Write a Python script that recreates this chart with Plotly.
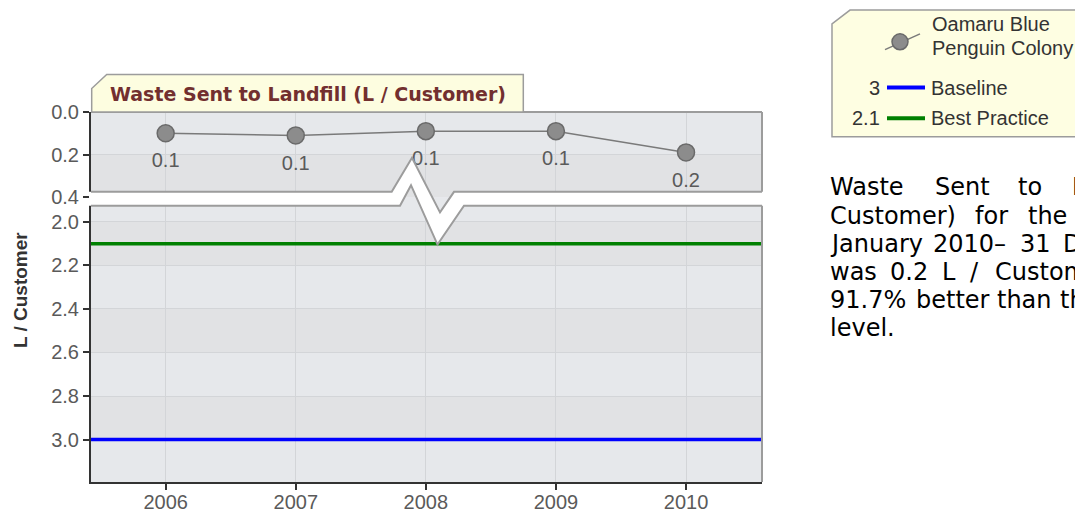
import plotly.graph_objects as go

# ---------------- data ----------------
years = [2006, 2007, 2008, 2009, 2010]
oamaru = [0.10, 0.11, 0.09, 0.09, 0.19]
baseline = 3.0
best_practice = 2.1
top_ticks = [0.0, 0.2, 0.4]
bottom_ticks = [2.0, 2.2, 2.4, 2.6, 2.8, 3.0]
series_name = ["Oamaru Blue", "Penguin Colony"]
baseline_name = "Baseline"
best_name = "Best Practice"
chart_title = "Waste Sent to Landfill (L / Customer)"
y_title = "L / Customer"
para_lines = [
    ["Waste", "Sent", "to", "Landfill"],
    ["Customer)", "for", "the"],
    ["January", "2010\u2013", "31", "December"],
    ["was", "0.2", "L", "/", "Customer"],
    ["91.7%", "better", "than", "the"],
    ["level."],
]

# ---------------- layout constants (page pixels) ----------------
OFF = 8                      # default body margin of the html page
PAGE_W, PAGE_H = 1083, 525
W, H = PAGE_W - OFF, PAGE_H - OFF
L, R, T, B = 91, 762, 112, 486
PW, PH = R - L, B - T
SPLIT = 198  # pixel y where the two panels meet


def px(x):
    return (x - L) / PW


def py(y):
    return (B - y) / PH


split_frac = py(SPLIT)
x_range = [2005.426, 2010.584]
top_range = [0.4, 0.0]
bot_range = [3.195, 1.886]

SANS = "Liberation Sans, Arial, sans-serif"
AX_FONT = dict(family=SANS, size=20, color="#5a5a5a")
GRID = "#D3D5D8"
BG = "#E6E8EB"
BAND = "#E1E2E4"
BORDER = "#9c9c9c"
AXIS = "#333333"

fig = go.Figure()

fig.add_trace(go.Scatter(
    x=years, y=oamaru, xaxis="x2", yaxis="y2",
    mode="lines+markers",
    line=dict(color="#7a7a7a", width=1.5),
    marker=dict(size=17, color="#8c8c8c", line=dict(color="#6a6a6a", width=1.5)),
    showlegend=False, hoverinfo="skip", cliponaxis=False,
))
# value labels (placed below points, using an invisible larger marker for offset)
fig.add_trace(go.Scatter(
    x=years, y=oamaru, xaxis="x2", yaxis="y2",
    mode="markers+text",
    marker=dict(size=29, opacity=0),
    texttemplate="%{y:.1f}", textposition="bottom center",
    textfont=dict(family=SANS, size=20, color="#5a5a5a"),
    showlegend=False, hoverinfo="skip", cliponaxis=False,
))

shapes = []
# alternating bands
for i in range(len(top_ticks) - 1):
    if i % 2 == 1:
        shapes.append(dict(type="rect", xref="paper", yref="y2", x0=0, x1=1,
                           y0=top_ticks[i], y1=top_ticks[i + 1], fillcolor=BAND,
                           line=dict(width=0), layer="below"))
for i in range(len(bottom_ticks) - 1):
    if i % 2 == 0:
        shapes.append(dict(type="rect", xref="paper", yref="y", x0=0, x1=1,
                           y0=bottom_ticks[i], y1=bottom_ticks[i + 1], fillcolor=BAND,
                           line=dict(width=0), layer="below"))

# reference lines
shapes.append(dict(type="line", xref="paper", yref="y", x0=0, x1=1, y0=best_practice,
                   y1=best_practice, line=dict(color="#008000", width=3.5), layer="above"))
shapes.append(dict(type="line", xref="paper", yref="y", x0=0, x1=1, y0=baseline,
                   y1=baseline, line=dict(color="#0000FF", width=3.5), layer="above"))

# right and top borders
shapes.append(dict(type="line", xref="paper", yref="paper", x0=1, x1=1, y0=0, y1=1,
                   line=dict(color=BORDER, width=2), layer="above"))
shapes.append(dict(type="line", xref="paper", yref="paper", x0=0, x1=1, y0=1, y1=1,
                   line=dict(color=BORDER, width=2), layer="above"))


def path(points, close=False):
    s = "M " + " L ".join(f"{px(x):.5f},{py(y):.5f}" for x, y in points)
    return s + (" Z" if close else "")


upper = [(L - 2, 192.7), (391.7, 192.7), (412, 158.3), (440, 213.5), (454, 192.7), (R + 2, 192.7)]
lower = [(R + 2, 206.7), (464, 206.7), (437.5, 246), (411, 186), (400, 206.7), (L - 2, 206.7)]
shapes.append(dict(type="path", xref="paper", yref="paper", path=path(upper + lower, True),
                   fillcolor="white", line=dict(width=0), layer="above"))
shapes.append(dict(type="path", xref="paper", yref="paper",
                   path=path([(L, 192.7)] + upper[1:-1] + [(R, 192.7)]),
                   line=dict(color=BORDER, width=2), layer="above"))
shapes.append(dict(type="path", xref="paper", yref="paper",
                   path=path([(R, 206.7)] + lower[1:-1] + [(L, 206.7)]),
                   line=dict(color=BORDER, width=2), layer="above"))

# title box
tb = [(91.7, 112), (91.7, 88.3), (106.7, 74), (523.3, 74), (523.3, 112)]
shapes.append(dict(type="path", xref="paper", yref="paper", path=path(tb, True),
                   fillcolor="#FDFDE0", line=dict(color=BORDER, width=1.5), layer="above"))

# legend box
lb = [(832, 137), (832, 23), (850, 9), (1090, 9), (1090, 137)]
shapes.append(dict(type="path", xref="paper", yref="paper", path=path(lb, True),
                   fillcolor="#FEFEE2", line=dict(color=BORDER, width=1.5), layer="above"))
shapes.append(dict(type="line", xref="paper", yref="paper", x0=px(885), y0=py(49), x1=px(920),
                   y1=py(33), line=dict(color="#7a7a7a", width=1.5), layer="above"))
shapes.append(dict(type="circle", xref="paper", yref="paper", x0=px(892), x1=px(908),
                   y0=py(49), y1=py(33), fillcolor="#8c8c8c",
                   line=dict(color="#6a6a6a", width=1.5), layer="above"))
shapes.append(dict(type="line", xref="paper", yref="paper", x0=px(887), x1=px(925), y0=py(87.3),
                   y1=py(87.3), line=dict(color="#0000FF", width=4), layer="above"))
shapes.append(dict(type="line", xref="paper", yref="paper", x0=px(887), x1=px(925), y0=py(118.3),
                   y1=py(118.3), line=dict(color="#008000", width=4), layer="above"))

LEG_FONT = dict(family=SANS, size=20, color="#333333")
annotations = [
    dict(text=f"<b>{chart_title}</b>", x=px(307.5), y=py(94), xref="paper", yref="paper",
         showarrow=False, xanchor="center", yanchor="middle",
         font=dict(family="DejaVu Sans", size=19, color="#722F2F")),
    dict(text=f"<b>{y_title}</b>", x=px(20), y=py(292), xref="paper", yref="paper",
         showarrow=False, textangle=-90, xanchor="center", yanchor="middle",
         font=dict(family=SANS, size=19, color="#333333")),
    dict(text=series_name[0], x=px(930), y=py(23), xref="paper", yref="paper", showarrow=False,
         xanchor="left", yanchor="middle", font=LEG_FONT),
    dict(text=series_name[1], x=px(930), y=py(47), xref="paper", yref="paper", showarrow=False,
         xanchor="left", yanchor="middle", font=LEG_FONT),
    dict(text=baseline_name, x=px(929), y=py(87.3), xref="paper", yref="paper", showarrow=False,
         xanchor="left", yanchor="middle", font=LEG_FONT),
    dict(text=best_name, x=px(929), y=py(118.3), xref="paper", yref="paper", showarrow=False,
         xanchor="left", yanchor="middle", font=LEG_FONT),
    dict(text=f"{baseline:g}", x=px(882), y=py(87.3), xref="paper", yref="paper", showarrow=False,
         xanchor="right", yanchor="middle", font=LEG_FONT),
    dict(text=f"{best_practice:g}", x=px(882), y=py(118.3), xref="paper", yref="paper",
         showarrow=False, xanchor="right", yanchor="middle", font=LEG_FONT),
]

word_x = [
    [828, 933, 1016, 1070],
    [828, 973, 1026],
    [828, 931, 1018, 1061],
    [828, 888, 940, 968, 993],
    [828, 914, 995, 1058],
    [828],
]
line_y = [188.3, 216.7, 245, 273.3, 301.7, 330]
PARA_FONT = dict(family="DejaVu Sans, Verdana, sans-serif", size=24, color="#000000")
for words, xs, yy in zip(para_lines, word_x, line_y):
    for w, xx in zip(words, xs):
        annotations.append(dict(text=w, x=px(xx), y=py(yy), xref="paper", yref="paper",
                                showarrow=False, xanchor="left", yanchor="middle",
                                font=PARA_FONT))

fig.update_layout(
    width=W, height=H, autosize=False,
    margin=dict(l=L - OFF, r=PAGE_W - R, t=T - OFF, b=PAGE_H - B, pad=0),
    paper_bgcolor="white", plot_bgcolor=BG,
    showlegend=False,
    xaxis=dict(domain=[0, 1], anchor="y", range=x_range, tickvals=years,
               ticktext=[str(y) for y in years], showgrid=True, gridcolor=GRID, gridwidth=1,
               showline=True, linecolor=AXIS, linewidth=2, ticks="outside", ticklen=6,
               tickcolor=AXIS, tickwidth=1.5, tickfont=AX_FONT, zeroline=False,
               ticklabelstandoff=-5),
    xaxis2=dict(domain=[0, 1], anchor="y2", matches="x", range=x_range, tickvals=years,
                showticklabels=False, showgrid=True, gridcolor=GRID, gridwidth=1,
                showline=False, ticks="", zeroline=False),
    yaxis=dict(domain=[0, split_frac], anchor="x", range=bot_range, tickvals=bottom_ticks,
               tickformat=".1f", showgrid=True, gridcolor=GRID, gridwidth=1, showline=True,
               linecolor=AXIS, linewidth=2, ticks="outside", ticklen=6, tickcolor=AXIS,
               tickwidth=1.5, tickfont=AX_FONT, zeroline=False),
    yaxis2=dict(domain=[split_frac, 1], anchor="x2", range=top_range, tickvals=top_ticks,
                tickformat=".1f", showgrid=True, gridcolor=GRID, gridwidth=1, showline=True,
                linecolor=AXIS, linewidth=2, ticks="outside", ticklen=6, tickcolor=AXIS,
                tickwidth=1.5, tickfont=AX_FONT, zeroline=False),
    shapes=shapes,
    annotations=annotations,
)

fig.write_html("out.html")
